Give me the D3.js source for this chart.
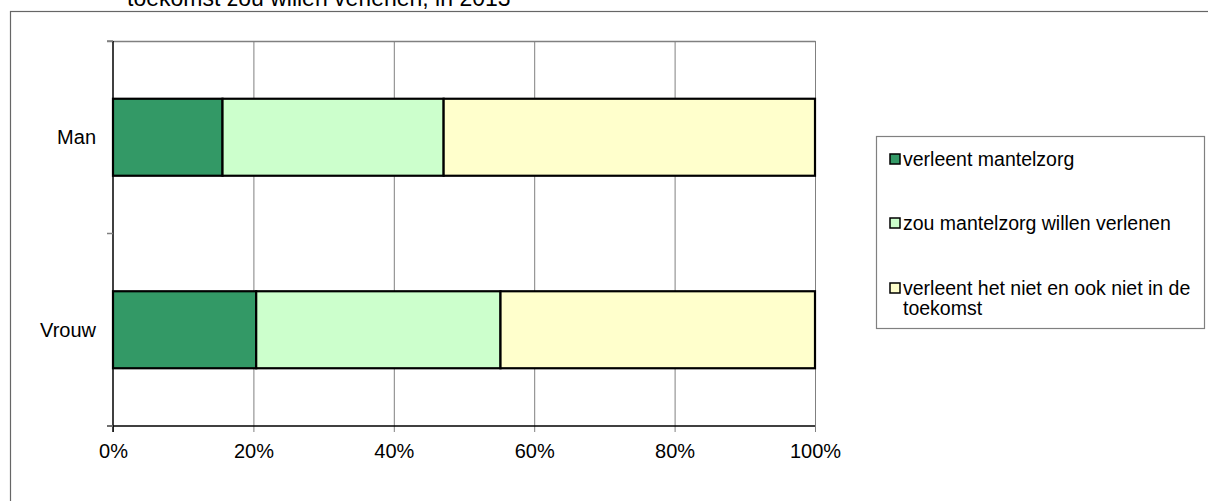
<!DOCTYPE html>
<html>
<head>
<meta charset="utf-8">
<script src="https://cdn.jsdelivr.net/npm/d3@7"></script>
<style>
  html, body { margin: 0; padding: 0; background: #fff; }
  svg { display: block; font-family: "Liberation Sans", Arial, sans-serif; }
</style>
</head>
<body>
<svg id="chart" width="1208" height="501"></svg>
<script>
const categories = ["Man", "Vrouw"];
const seriesNames = ["verleent mantelzorg", "zou mantelzorg willen verlenen", "verleent het niet en ook niet in de toekomst"];
const seriesColors = ["#339966", "#CCFFCC", "#FFFFCC"];
const verleent = [15.6, 20.4];
const zouWillen = [31.5, 34.8];
const nietOokNiet = [52.9, 44.8];
const xTicks = [0, 20, 40, 60, 80, 100];
const titleLine = "toekomst zou willen verlenen, in 2013";

(function () {
const svg = d3.select("#chart");
const W = 1208, H = 501;
svg.append("rect").attr("width", W).attr("height", H).attr("fill", "#fff");

// outer chart border
svg.append("rect").attr("x", 10.5).attr("y", 11.5).attr("width", 1210).attr("height", 520)
  .attr("fill", "none").attr("stroke", "#666").attr("stroke-width", 1.2);

// title (second line visible, first line is above the visible area)
svg.append("text").attr("x", 127).attr("y", 6).attr("font-size", 23).attr("fill", "#000")
  .text(titleLine);

const pL = 113, pR = 815, pT = 41, pB = 426;
const x = d3.scaleLinear().domain([0, 100]).range([pL, pR]);
const y = d3.scaleBand().domain(categories).range([pT, pB]).paddingInner(0.6).paddingOuter(0.3);

// gridlines
svg.append("g").selectAll("line").data(xTicks.slice(1)).join("line")
  .attr("x1", d => x(d) + 0.5).attr("x2", d => x(d) + 0.5)
  .attr("y1", pT).attr("y2", pB)
  .attr("stroke", "#808080").attr("stroke-width", 1);
// top border of plot
svg.append("line").attr("x1", pL - 6).attr("x2", pR + 0.5).attr("y1", pT + 0.5).attr("y2", pT + 0.5)
  .attr("stroke", "#808080").attr("stroke-width", 1.5);

// stacked bars
const stackData = categories.map((c, i) => ({cat: c, s0: verleent[i], s1: zouWillen[i], s2: nietOokNiet[i]}));
const stack = d3.stack().keys(["s0", "s1", "s2"])(stackData);
stack.forEach((layer, li) => {
  svg.append("g").selectAll("rect").data(layer).join("rect")
    .attr("x", d => x(d[0]))
    .attr("y", d => y(d.data.cat))
    .attr("width", d => x(d[1]) - x(d[0]))
    .attr("height", y.bandwidth())
    .attr("fill", seriesColors[li])
    .attr("stroke", "#000").attr("stroke-width", 2.2);
});

// x axis
const xAxis = svg.append("g").attr("transform", `translate(0,${pB})`)
  .call(d3.axisBottom(x).tickValues(xTicks).tickFormat(d => d + "%").tickSize(6).tickPadding(12));
xAxis.select(".domain").remove();
xAxis.selectAll(".tick line").attr("stroke", "#808080");
xAxis.selectAll("text").attr("font-size", 20).attr("fill", "#000").attr("font-family", "Liberation Sans, Arial, sans-serif");
svg.append("line").attr("x1", pL - 6).attr("x2", pR).attr("y1", pB).attr("y2", pB)
  .attr("stroke", "#000").attr("stroke-width", 1.5);

// y axis
svg.append("line").attr("x1", pL).attr("x2", pL).attr("y1", pT).attr("y2", pB + 6)
  .attr("stroke", "#000").attr("stroke-width", 1.5);
const catTicks = [pT, (pT + pB) / 2, pB];
svg.append("g").selectAll("line").data(catTicks).join("line")
  .attr("x1", pL - 6).attr("x2", pL).attr("y1", d => d).attr("y2", d => d)
  .attr("stroke", "#808080").attr("stroke-width", 1.5);
svg.append("g").selectAll("text").data(categories).join("text")
  .attr("x", 96).attr("y", d => y(d) + y.bandwidth() / 2)
  .attr("dy", "0.35em").attr("text-anchor", "end").attr("font-size", 20).attr("fill", "#000")
  .text(d => d);

// legend
const lg = svg.append("g");
lg.append("rect").attr("x", 876.5).attr("y", 136.5).attr("width", 328).attr("height", 192)
  .attr("fill", "#fff").attr("stroke", "#808080").attr("stroke-width", 1.2);
const legendRows = [
  {lines: ["verleent mantelzorg"], cy: 159},
  {lines: ["zou mantelzorg willen verlenen"], cy: 223},
  {lines: ["verleent het niet en ook niet in de", "toekomst"], cy: 288}
];
legendRows.forEach((r, i) => {
  lg.append("rect").attr("x", 890).attr("y", r.cy - 5).attr("width", 10).attr("height", 10)
    .attr("fill", seriesColors[i]).attr("stroke", "#000").attr("stroke-width", 1.5);
  const t = lg.append("text").attr("x", 903).attr("y", r.cy)
    .attr("font-size", 19.5).attr("fill", "#000");
  r.lines.forEach((ln, k) => {
    t.append("tspan").attr("x", 903).attr("dy", k === 0 ? "0.35em" : "1.05em").text(ln);
  });
});
})();
</script>
</body>
</html>
